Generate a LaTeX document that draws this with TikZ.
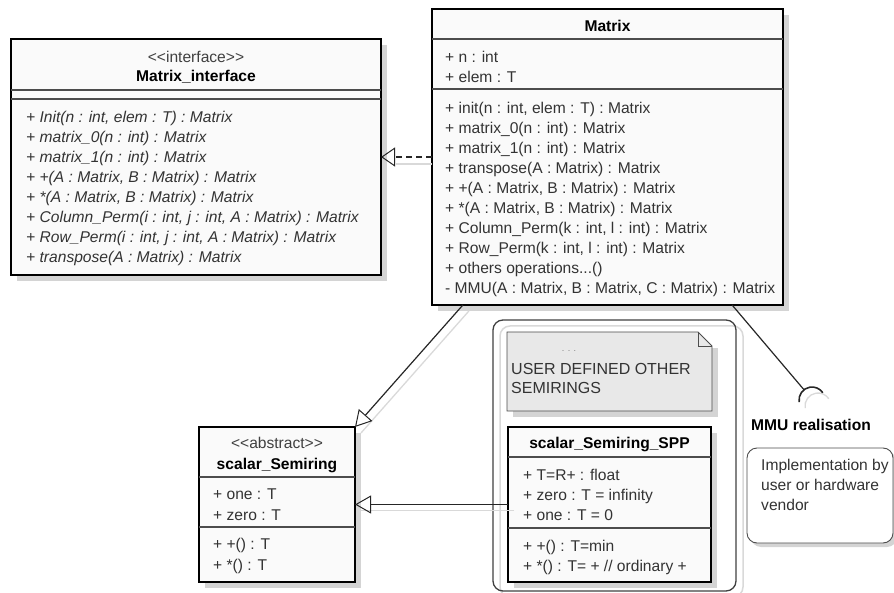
\documentclass[tikz,border=0pt]{standalone}
\usepackage{fontspec}
\setmainfont{Liberation Sans}
\usetikzlibrary{positioning,arrows.meta,calc}

\newcommand{\umlfont}{\fontsize{15.6}{20}\selectfont}

\tikzset{
  classbox/.style={draw=black, line width=2.6pt, fill=black!2, anchor=north west,
    inner sep=0pt, outer sep=0pt},
  sepline/.style={draw=black!70, line width=1.1pt},
  stereo/.style={anchor=base, inner sep=0pt, text=black!75},
  clsname/.style={anchor=base, inner sep=0pt, font=\umlfont\bfseries},
  member/.style={anchor=base west, inner sep=0pt, text=black!80},
  boxshadow/.style={fill=black!17},
  lnshadow/.style={draw=black!15, line width=1.3pt},
  realize/.style={draw=black!85, line width=1.2pt, dash pattern=on 6pt off 4pt,
    -{Triangle[open, length=14pt, width=19pt, line width=1pt]}},
  gener/.style={draw=black!85, line width=1.2pt,
    -{Triangle[open, length=16pt, width=18pt, line width=1pt]}}
}

\begin{document}
\begin{tikzpicture}[x=1pt, y=-1pt, font=\umlfont]
\useasboundingbox (0,0) rectangle (894,593);

% --- box shadows ---
\fill[boxshadow] (17,45) rectangle (387,281);
\fill[boxshadow] (438,15) rectangle (789,311);
\fill[boxshadow] (205,433) rectangle (361,588);
\fill[boxshadow] (514,433) rectangle (717,588);
\fill[boxshadow, rounded corners=10pt] (751,452) rectangle (897,547);
\draw[black!15, line width=1.5pt, rounded corners=10pt] (500,326) rectangle (743,597);
\fill[boxshadow] (513,348) rectangle (718,417);

% --- Matrix_interface ---
\node[classbox, minimum width=370pt, minimum height=236pt] (mi) at (11,39) {};
\draw[sepline] (mi.west |- 0,90) -- (mi.east |- 0,90);
\draw[sepline] (mi.west |- 0,99) -- (mi.east |- 0,99);
\node[stereo] (mi-st) at (196,63) {<{}<interface>{}>};
\node[clsname] (mi-name) at (196,82) {Matrix\_interface};
\foreach \t [count=\i from 0] in {
  {+ Init(n : int, elem : T) : Matrix},
  {+ matrix\_0(n : int) : Matrix},
  {+ matrix\_1(n : int) : Matrix},
  {+ +(A : Matrix, B : Matrix) : Matrix},
  {+ *(A : Matrix, B : Matrix) : Matrix},
  {+ Column\_Perm(i : int, j : int, A : Matrix) : Matrix},
  {+ Row\_Perm(i : int, j : int, A : Matrix) : Matrix},
  {+ transpose(A : Matrix) : Matrix}}
  \node[member, font=\umlfont\itshape] (mi-op\i) at (26,123+20*\i) {\t};

% --- Matrix ---
\node[classbox, minimum width=351pt, minimum height=296pt] (mx) at (432,9) {};
\draw[sepline] (mx.west |- 0,39) -- (mx.east |- 0,39);
\draw[sepline] (mx.west |- 0,89) -- (mx.east |- 0,89);
\node[clsname] (mx-name) at (607.5,32) {Matrix};
\node[member] (mx-at0) at (445,63) {+ n : int};
\node[member] (mx-at1) at (445,83) {+ elem : T};
\foreach \t [count=\i from 0] in {
  {+ init(n : int, elem : T) : Matrix},
  {+ matrix\_0(n : int) : Matrix},
  {+ matrix\_1(n : int) : Matrix},
  {+ transpose(A : Matrix) : Matrix},
  {+ +(A : Matrix, B : Matrix) : Matrix},
  {+ *(A : Matrix, B : Matrix) : Matrix},
  {+ Column\_Perm(k : int, l : int) : Matrix},
  {+ Row\_Perm(k : int, l : int) : Matrix},
  {+ others operations{...}()},
  {- MMU(A : Matrix, B : Matrix, C : Matrix) : Matrix}}
  \node[member] (mx-op\i) at (445,114+19.9*\i) {\t};

% --- group of user semirings ---
\node[draw=black!75, line width=1.3pt, rounded corners=10pt, anchor=north west,
  minimum width=243pt, minimum height=271pt, inner sep=0pt, outer sep=0pt] (grp) at (493,320) {};

% note
\filldraw[fill=black!9, draw=black!70, line width=0.9pt]
  (507,332) -- (698,332) -- (712,346) -- (712,411) -- (507,411) -- cycle;
\draw[black!70, line width=0.9pt] (698,332) -- (698,346) -- (712,346);
\node[anchor=base, inner sep=0pt, text=black!50, font=\small] (nt-dots) at (569,352) {. . .};
\node[member, font=\fontsize{16}{20}\selectfont] (nt-l1) at (511,374) {USER DEFINED OTHER};
\node[member, font=\fontsize{16}{20}\selectfont] (nt-l2) at (511,393) {SEMIRINGS};

% --- scalar_Semiring_SPP ---
\node[classbox, minimum width=203pt, minimum height=155pt] (spp) at (508,427) {};
\draw[sepline] (spp.west |- 0,457) -- (spp.east |- 0,457);
\draw[sepline] (spp.west |- 0,528) -- (spp.east |- 0,528);
\node[clsname] (spp-name) at (609.5,448) {scalar\_Semiring\_SPP};
\node[member] (spp-at0) at (523,480) {+ T=R+ : float};
\node[member] (spp-at1) at (523,500) {+ zero : T = infinity};
\node[member] (spp-at2) at (523,520) {+ one : T = 0};
\node[member] (spp-op0) at (523,551) {+ +() : T=min};
\node[member] (spp-op1) at (523,571) {+ *() : T= + // ordinary +};

% --- scalar_Semiring ---
\node[classbox, minimum width=156pt, minimum height=155pt] (sr) at (199,427) {};
\draw[sepline] (sr.west |- 0,477) -- (sr.east |- 0,477);
\draw[sepline] (sr.west |- 0,527) -- (sr.east |- 0,527);
\node[stereo] (sr-st) at (277,448) {<{}<abstract>{}>};
\node[clsname] (sr-name) at (277,469) {scalar\_Semiring};
\node[member] (sr-at0) at (213,499) {+ one : T};
\node[member] (sr-at1) at (213,520) {+ zero : T};
\node[member] (sr-op0) at (213,549) {+ +() : T};
\node[member] (sr-op1) at (213,570) {+ *() : T};

% --- MMU realisation ---
\coordinate (sock) at (812,400);
\node[clsname, anchor=base west] (mmu) at (751,430) {MMU realisation};
\node[draw=black!70, line width=0.9pt, rounded corners=10pt, anchor=north west,
  minimum width=146pt, minimum height=95pt, inner sep=0pt, outer sep=0pt, fill=white] (impl) at (747,448) {};
\node[member] (impl-l1) at (761,470) {Implementation by};
\node[member] (impl-l2) at (761,490) {user or hardware};
\node[member] (impl-l3) at (761,510) {vendor};

% --- connectors ---
\coordinate (mx-gen) at ($(mx.south west)!0.088!(mx.south east)$);
\coordinate (mx-req) at ($(mx.south west)!0.855!(mx.south east)$);
\begin{scope}[transform canvas={shift={(6pt,-6pt)}}]
  \draw[lnshadow] (mx-gen) -- (sr.north east);
  \draw[lnshadow] (spp.west) -- (spp.west -| sr.east);
  \draw[lnshadow] ($(sock)+(171:13)$) arc[start angle=171, end angle=326, radius=13];
\end{scope}
\draw[lnshadow] ($(mx.west)+(0,7)$) -- ($(mi.east)+(15,7)$);
\draw[realize] (mx) -- (mi);
\draw[gener] (mx-gen) -- (sr.north east);
\draw[gener] (spp.west) -- (spp.west -| sr.east);
\draw[black!85, line width=1.2pt] (mx-req) -- ($(sock)+(232:13)$);
\draw[black!85, line width=1.6pt] ($(sock)+(171:13)$) arc[start angle=171, end angle=326, radius=13];

\end{tikzpicture}
\end{document}
